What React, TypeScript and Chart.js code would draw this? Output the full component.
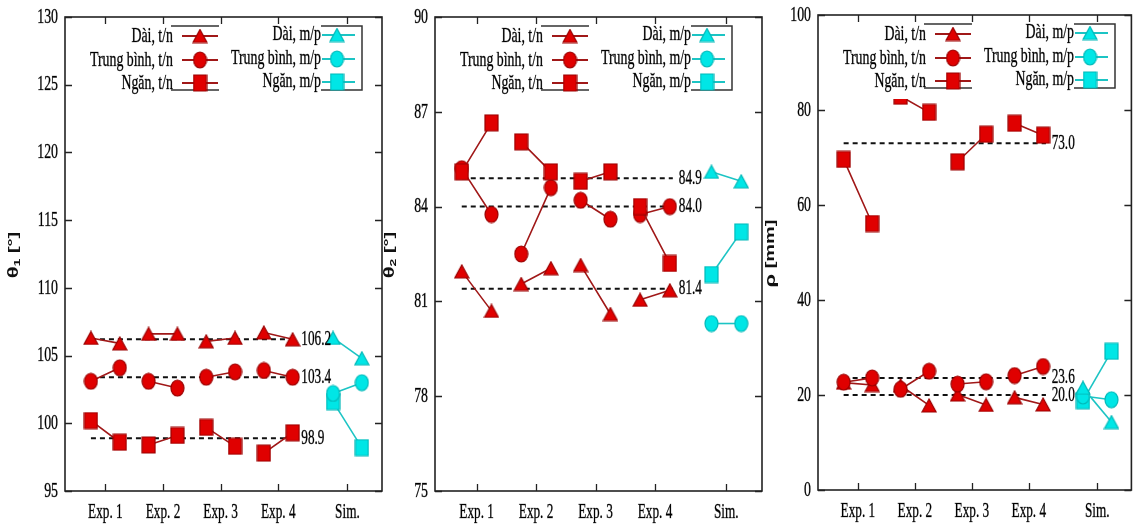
import React, { useEffect, useRef } from "react";
import { Chart, registerables } from "chart.js";
Chart.register(...registerables);

// ---------- DATA ----------
const categories = ["Exp. 1", "Exp. 2", "Exp. 3", "Exp. 4", "Sim."];
const categoryX = [1, 2, 3, 4, 5.2];
const pairOffset = 0.25;

const legendLeft = ["Dài, t/n", "Trung bình, t/n", "Ngăn, t/n"];
const legendRight = ["Dài, m/p", "Trung bình, m/p", "Ngăn, m/p"];

// Panel 1: θ1 [°]  (pairs per experiment: Exp1 a,b, Exp2 a,b, ...)
const theta1Long = [106.3, 105.9, 106.6, 106.6, 106.05, 106.3, 106.7, 106.2];
const theta1Mid = [103.1, 104.1, 103.1, 102.6, 103.4, 103.8, 103.9, 103.4];
const theta1Short = [100.2, 98.6, 98.4, 99.1, 99.7, 98.3, 97.8, 99.3];
const theta1SimLong = [106.3, 104.8];
const theta1SimMid = [102.2, 103.0];
const theta1SimShort = [101.6, 98.2];
const theta1Means = [106.2, 103.4, 98.9];
const theta1Ticks = [95, 100, 105, 110, 115, 120, 125, 130];

// Panel 2: θ2 [°]
const theta2Long = [81.95, 80.7, 81.55, 82.05, 82.15, 80.6, 81.05, 81.35];
const theta2Mid = [85.2, 83.75, 82.5, 84.6, 84.2, 83.6, 83.75, 84.0];
const theta2Short = [85.1, 86.65, 86.05, 85.1, 84.8, 85.1, 84.0, 82.2];
const theta2SimLong = [85.1, 84.8];
const theta2SimMid = [80.3, 80.3];
const theta2SimShort = [81.85, 83.2];
const theta2Means = [84.9, 84.0, 81.4];
const theta2Ticks = [75, 78, 81, 84, 87, 90];

// Panel 3: ρ [mm]
const rhoLong = [22.6, 22.1, 22.0, 17.8, 20.1, 17.9, 19.5, 18.0];
const rhoMid = [22.7, 23.6, 21.2, 25.0, 22.3, 22.8, 24.1, 26.0];
const rhoShort = [69.6, 56.1, 82.9, 79.5, 69.1, 74.9, 77.2, 74.7];
const rhoSimLong = [21.5, 14.3];
const rhoSimMid = [19.8, 19.0];
const rhoSimShort = [18.8, 29.2];
const rhoMeans = [73.0, 23.6, 20.0];
const rhoTicks = [0, 20, 40, 60, 80, 100];

// ---------- STYLE / LAYOUT ----------
const W = 1140;
const H = 526;
const SX = 0.63;
const SERIF = '"Liberation Serif", "Times New Roman", serif';
const SANS = '"Liberation Sans", "DejaVu Sans", sans-serif';
const RED_LINE = "#a01818";
const RED_FILL = "#e00000";
const RED_EDGE = "#9a0000";
const CY_LINE = "#1cc4c4";
const CY_FILL = "#00e6e6";
const CY_EDGE = "#00b8b8";

type PanelCfg = {
  left: number; right: number; top: number; bottom: number;
  ticks: number[];
  long: number[]; mid: number[]; short: number[];
  simLong: number[]; simMid: number[]; simShort: number[];
  means: number[];
  sym: string; sub: string; unit: string; titleDx: number;
};

const panels: PanelCfg[] = [
  { left: 65, right: 382, top: 17, bottom: 491, ticks: theta1Ticks,
    long: theta1Long, mid: theta1Mid, short: theta1Short,
    simLong: theta1SimLong, simMid: theta1SimMid, simShort: theta1SimShort,
    means: theta1Means, sym: "θ", sub: "1", unit: " [°]", titleDx: 51 },
  { left: 435, right: 762, top: 17, bottom: 491, ticks: theta2Ticks,
    long: theta2Long, mid: theta2Mid, short: theta2Short,
    simLong: theta2SimLong, simMid: theta2SimMid, simShort: theta2SimShort,
    means: theta2Means, sym: "θ", sub: "2", unit: " [°]", titleDx: 45 },
  { left: 818, right: 1138, top: 15, bottom: 490, ticks: rhoTicks,
    long: rhoLong, mid: rhoMid, short: rhoShort,
    simLong: rhoSimLong, simMid: rhoSimMid, simShort: rhoSimShort,
    means: rhoMeans, sym: "ρ", sub: "", unit: " [mm]", titleDx: 47 },
];

function makeMarker(shape: string, fill: string, stroke: string, w: number, h: number) {
  const c = document.createElement("canvas");
  c.width = w + 2;
  c.height = h + 2;
  const ctx = c.getContext("2d")!;
  const cx = c.width / 2, cy = c.height / 2;
  ctx.fillStyle = fill;
  ctx.strokeStyle = stroke;
  ctx.lineWidth = 1.2;
  ctx.beginPath();
  if (shape === "circle") ctx.ellipse(cx, cy, w / 2, h / 2, 0, 0, Math.PI * 2);
  else if (shape === "rect") ctx.rect(cx - w / 2, cy - h / 2, w, h);
  else {
    ctx.moveTo(cx, cy - h / 2);
    ctx.lineTo(cx + w / 2, cy + h / 2);
    ctx.lineTo(cx - w / 2, cy + h / 2);
    ctx.closePath();
  }
  ctx.fill();
  ctx.stroke();
  return c;
}

function pairPoints(vals: number[], centers: number[]) {
  const pts: { x: number; y: number | null }[] = [];
  centers.forEach((cx, i) => {
    pts.push({ x: cx - pairOffset, y: vals[2 * i] });
    pts.push({ x: cx + pairOffset, y: vals[2 * i + 1] });
    pts.push({ x: cx + 0.5, y: null });
  });
  return pts;
}

function txt(ctx: CanvasRenderingContext2D, s: string, x: number, y: number, align: CanvasTextAlign, size = 21) {
  ctx.save();
  ctx.font = `${size}px ${SERIF}`;
  ctx.textBaseline = "middle";
  ctx.textAlign = align;
  ctx.fillStyle = "#000";
  ctx.strokeStyle = "rgba(0,0,0,0.55)";
  ctx.lineWidth = 0.6;
  ctx.translate(x, y);
  ctx.scale(SX, 1);
  ctx.fillText(s, 0, 0);
  ctx.strokeText(s, 0, 0);
  ctx.restore();
}

function PanelChart({ cfg }: { cfg: PanelCfg }) {
  const ref = useRef<HTMLCanvasElement>(null);
  useEffect(() => {
    const canvas = ref.current!;
    const mk = {
      rTri: makeMarker("tri", RED_FILL, RED_EDGE, 14, 13),
      rCir: makeMarker("circle", RED_FILL, RED_EDGE, 13, 16),
      rSq: makeMarker("rect", RED_FILL, RED_EDGE, 13, 16),
      cTri: makeMarker("tri", CY_FILL, CY_EDGE, 14, 13),
      cCir: makeMarker("circle", CY_FILL, CY_EDGE, 13, 16),
      cSq: makeMarker("rect", CY_FILL, CY_EDGE, 13, 16),
    };
    const expX = categoryX.slice(0, 4);
    const simX = categoryX.slice(4);
    const series = (data: any, color: string, img: any, order: number) => ({
      data, borderColor: color, borderWidth: 1.6, pointStyle: img,
      pointRadius: 7, showLine: true, spanGaps: false, order, clip: false as any,
    });
    const meanSets = cfg.means.map((m) => ({
      data: [{ x: 0.75, y: m }, { x: 4.3, y: m }],
      borderColor: "#111", borderWidth: 2, borderDash: [5, 4],
      pointRadius: 0, order: 10,
    }));

    const deco = {
      id: "deco",
      afterDraw(chart: any) {
        const ctx: CanvasRenderingContext2D = chart.ctx;
        const { left, right, top, bottom } = chart.chartArea;
        const xs = chart.scales.x, ys = chart.scales.y;
        ctx.save();
        // frame
        ctx.strokeStyle = "#222";
        ctx.lineWidth = 1.6;
        ctx.strokeRect(left, top, right - left, bottom - top);
        // ticks
        ctx.lineWidth = 1.3;
        ctx.beginPath();
        cfg.ticks.forEach((t) => {
          const y = Math.round(ys.getPixelForValue(t)) + 0.5;
          ctx.moveTo(left, y); ctx.lineTo(left + 7, y);
          ctx.moveTo(right, y); ctx.lineTo(right - 7, y);
        });
        categoryX.forEach((c) => {
          const x = Math.round(xs.getPixelForValue(c)) + 0.5;
          ctx.moveTo(x, bottom); ctx.lineTo(x, bottom - 7);
          ctx.moveTo(x, top); ctx.lineTo(x, top + 7);
        });
        ctx.stroke();
        ctx.restore();
        // tick labels
        cfg.ticks.forEach((t) => txt(ctx, String(t), left - 7, ys.getPixelForValue(t), "right", 22));
        categories.forEach((c, i) => txt(ctx, c, xs.getPixelForValue(categoryX[i]), bottom + 21, "center", 21));
        // mean value labels
        cfg.means.forEach((m) => txt(ctx, m.toFixed(1), xs.getPixelForValue(4.4), ys.getPixelForValue(m), "left", 21));
        // y title
        ctx.save();
        ctx.translate(left - cfg.titleDx, (top + bottom) / 2 + 1);
        ctx.scale(SX, 1);
        ctx.rotate(-Math.PI / 2);
        ctx.fillStyle = "#111";
        ctx.textBaseline = "middle";
        ctx.font = `bold 22px ${SANS}`;
        const w1 = ctx.measureText(cfg.sym).width;
        ctx.font = `bold 14px ${SANS}`;
        const w2 = cfg.sub ? ctx.measureText(cfg.sub).width : 0;
        ctx.font = `bold 20px ${SANS}`;
        const w3 = ctx.measureText(cfg.unit).width;
        let sx = -(w1 + w2 + w3) / 2;
        ctx.font = `bold 22px ${SANS}`;
        ctx.fillText(cfg.sym, sx, 0);
        sx += w1;
        if (cfg.sub) {
          ctx.font = `bold 14px ${SANS}`;
          ctx.fillText(cfg.sub, sx, 6);
          sx += w2;
        }
        ctx.font = `bold 20px ${SANS}`;
        ctx.fillText(cfg.unit, sx, 0);
        ctx.restore();
        // legend
        const bt = top + 9, bb = top + 73, br = left + 297;
        ctx.save();
        ctx.fillStyle = "#fff";
        ctx.fillRect(left + 12, bt, br - left - 12, bb - bt + 11);
        ctx.strokeStyle = "#333";
        ctx.lineWidth = 1.5;
        ctx.beginPath();
        ctx.moveTo(left + 106, bt); ctx.lineTo(left + 154, bt);
        ctx.moveTo(left + 256, bt); ctx.lineTo(br, bt); ctx.lineTo(br, bb); ctx.lineTo(left + 256, bb);
        ctx.moveTo(left + 106, bb); ctx.lineTo(left + 154, bb);
        ctx.stroke();
        ctx.restore();
        const rows = [top + 19, top + 43, top + 66];
        const leftImgs = [mk.rTri, mk.rCir, mk.rSq];
        const rightImgs = [mk.cTri, mk.cCir, mk.cSq];
        rows.forEach((ry, i) => {
          txt(ctx, legendLeft[i], left + 108, ry, "right", 22);
          txt(ctx, legendRight[i], left + 256, ry - 2, "right", 22);
          ctx.save();
          ctx.lineWidth = 1.8;
          ctx.strokeStyle = RED_LINE;
          ctx.beginPath(); ctx.moveTo(left + 117, ry); ctx.lineTo(left + 153, ry); ctx.stroke();
          ctx.strokeStyle = CY_LINE;
          ctx.beginPath(); ctx.moveTo(left + 257, ry - 1); ctx.lineTo(left + 290, ry - 1); ctx.stroke();
          const li = leftImgs[i], ri = rightImgs[i];
          ctx.drawImage(li, left + 135 - li.width / 2, ry - li.height / 2);
          ctx.drawImage(ri, left + 272 - ri.width / 2, ry - 1 - ri.height / 2);
          ctx.restore();
        });
      },
    };

    const chart = new Chart(canvas, {
      type: "line",
      data: {
        datasets: [
          series(pairPoints(cfg.long, expX), RED_LINE, mk.rTri, 3),
          series(pairPoints(cfg.mid, expX), RED_LINE, mk.rCir, 2),
          series(pairPoints(cfg.short, expX), RED_LINE, mk.rSq, 1),
          series(pairPoints(cfg.simLong, simX), CY_LINE, mk.cTri, 0),
          series(pairPoints(cfg.simMid, simX), CY_LINE, mk.cCir, 0),
          series(pairPoints(cfg.simShort, simX), CY_LINE, mk.cSq, 0),
          ...meanSets,
        ] as any,
      },
      options: {
        animation: false,
        responsive: false,
        events: [],
        layout: { padding: { left: cfg.left, right: W - cfg.right, top: cfg.top, bottom: H - cfg.bottom } },
        scales: {
          x: { type: "linear", min: 0.3, max: 5.8, display: false },
          y: { type: "linear", min: cfg.ticks[0], max: cfg.ticks[cfg.ticks.length - 1], display: false },
        },
        plugins: { legend: { display: false }, tooltip: { enabled: false } },
      } as any,
      plugins: [deco],
    });
    return () => chart.destroy();
  }, [cfg]);
  return (
    <canvas ref={ref} width={W} height={H}
      style={{ position: "absolute", left: 0, top: 0, width: W, height: H }} />
  );
}

export default function App() {
  return (
    <div style={{ position: "fixed", left: 0, top: 0, width: W, height: H, background: "#fff", overflow: "hidden" }}>
      {panels.map((p, i) => <PanelChart key={i} cfg={p} />)}
    </div>
  );
}
